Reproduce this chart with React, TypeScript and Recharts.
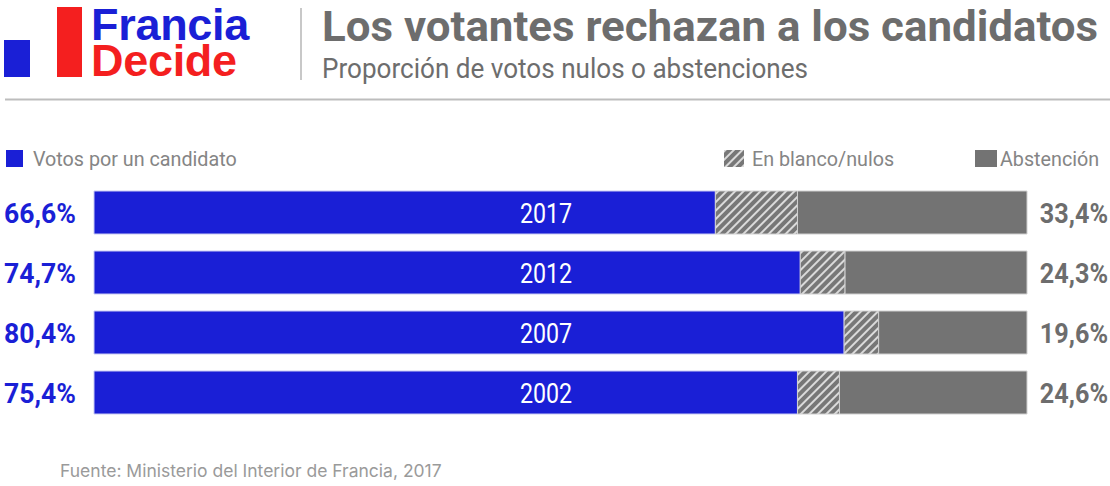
import { BarChart, Bar, XAxis, YAxis, LabelList } from "recharts";

const YEARS = ["2017", "2012", "2007", "2002"];
const VOTOS = [66.6, 75.7, 80.4, 75.4];
const BLANCO = [8.8, 4.8, 3.7, 4.5];
const ABSTENCION = [24.6, 19.5, 15.9, 20.1];
const LEFT_LABELS = ["66,6%", "74,7%", "80,4%", "75,4%"];
const RIGHT_LABELS = ["33,4%", "24,3%", "19,6%", "24,6%"];

const BLUE = "#1a1fd6";
const RED = "#f41f1f";
const GREY = "#737373";
const TEXT_GREY = "#6d6d6d";
const FONT = "Roboto, 'Liberation Sans', sans-serif";

const data = YEARS.map((year, i) => ({
  year,
  votos: VOTOS[i],
  blanco: BLANCO[i],
  abstencion: ABSTENCION[i],
  left: LEFT_LABELS[i],
  right: RIGHT_LABELS[i],
}));

// condensed look: squeeze text horizontally around its anchor
function Narrow({ x, y, sx = 0.86, anchor = "start", children, ...rest }: any) {
  return (
    <g transform={`translate(${x},${y}) scale(${sx},1)`}>
      <text x={0} y={0} textAnchor={anchor} fontFamily={FONT} {...rest}>
        {children}
      </text>
    </g>
  );
}

const YearLabel = (props: any) => {
  const { x, y, height, index } = props;
  return (
    <Narrow x={x + 452} y={y + height / 2 + 10} sx={0.86} anchor="middle" fill="#fff" fontSize={27}>
      {YEARS[index]}
    </Narrow>
  );
};

const LeftLabel = (props: any) => {
  const { x, y, height, index } = props;
  return (
    <Narrow x={x - 18} y={y + height / 2 + 10} sx={0.95} anchor="end" fill={BLUE} fontSize={28} fontWeight={700}>
      {LEFT_LABELS[index]}
    </Narrow>
  );
};

const RightLabel = (props: any) => {
  const { x, y, width, height, index } = props;
  return (
    <Narrow x={x + width + 81} y={y + height / 2 + 10} sx={0.9} anchor="end" fill={TEXT_GREY} fontSize={28} fontWeight={700}>
      {RIGHT_LABELS[index]}
    </Narrow>
  );
};

export default function App() {
  return (
    <div style={{ position: "absolute", left: 0, top: 0, width: 1110, height: 486, background: "#fff" }}>
      <svg width={1110} height={486} style={{ position: "absolute", left: 0, top: 0 }}>
        <defs>
          <pattern id="hatch" width="6" height="6" patternUnits="userSpaceOnUse" patternTransform="rotate(45)">
            <rect width="6" height="6" fill="#777" />
            <rect width="2" height="6" fill="#dadada" />
          </pattern>
        </defs>
        {/* logo */}
        <rect x={4} y={40} width={26} height={37} fill={BLUE} />
        <rect x={57} y={7} width={25} height={70} fill={RED} />
        <text x={91} y={40} fill={BLUE} fontSize={45} fontWeight={700} fontFamily="'Liberation Sans', Arial, sans-serif" letterSpacing={-0.3}>
          Francia
        </text>
        <text x={91} y={76} fill={RED} fontSize={45} fontWeight={700} fontFamily="'Liberation Sans', Arial, sans-serif" letterSpacing={-0.3}>
          Decide
        </text>
        <line x1={301} y1={8} x2={301} y2={80} stroke="#c8c8c8" strokeWidth={2} />
        {/* title */}
        <text x={322} y={41} fill={TEXT_GREY} fontSize={43} fontWeight={700} fontFamily={FONT} textLength={776} lengthAdjust="spacingAndGlyphs">
          Los votantes rechazan a los candidatos
        </text>
        <text x={322} y={78} fill={TEXT_GREY} fontSize={27} fontFamily={FONT} textLength={486} lengthAdjust="spacingAndGlyphs">
          Proporción de votos nulos o abstenciones
        </text>
        <line x1={5} y1={99.5} x2={1110} y2={99.5} stroke="#bdbdbd" strokeWidth={2} />
        {/* legend */}
        <rect x={6} y={150} width={17} height={17} fill={BLUE} />
        <Narrow x={33} y={166} sx={0.94} fill="#858585" fontSize={21}>
          Votos por un candidato
        </Narrow>
        <rect x={724} y={150} width={20} height={17} fill="url(#hatch)" />
        <Narrow x={752} y={166} sx={0.94} fill="#858585" fontSize={21}>
          En blanco/nulos
        </Narrow>
        <rect x={975} y={150} width={22} height={17} fill={GREY} />
        <Narrow x={1000} y={166} sx={0.94} fill="#858585" fontSize={21}>
          Abstención
        </Narrow>
        {/* footer */}
        <text x={60} y={477} fill="#9a9a9a" fontSize={17.5} fontFamily="Inter, sans-serif">
          Fuente: Ministerio del Interior de Francia, 2017
        </text>
      </svg>
      <div style={{ position: "absolute", left: 0, top: 0 }}>
        <BarChart
          width={1110}
          height={486}
          data={data}
          layout="vertical"
          barSize={43}
          margin={{ top: 182, right: 83, bottom: 64, left: 94 }}
        >
          <defs>
            <pattern id="hatchBar" width="6" height="6" patternUnits="userSpaceOnUse" patternTransform="rotate(45)">
              <rect width="6" height="6" fill="#777" />
              <rect width="2" height="6" fill="#dadada" />
            </pattern>
          </defs>
          <XAxis type="number" domain={[0, 100]} hide />
          <YAxis type="category" dataKey="year" hide width={0} />
          <Bar dataKey="votos" stackId="a" fill={BLUE} stroke="#c9cbf3" strokeWidth={1} isAnimationActive={false}>
            <LabelList dataKey="year" content={<YearLabel />} />
            <LabelList dataKey="left" content={<LeftLabel />} />
          </Bar>
          <Bar dataKey="blanco" stackId="a" fill="url(#hatchBar)" stroke="#d0d0d0" strokeWidth={1} isAnimationActive={false} />
          <Bar dataKey="abstencion" stackId="a" fill={GREY} stroke="#d0d0d0" strokeWidth={1} isAnimationActive={false}>
            <LabelList dataKey="right" content={<RightLabel />} />
          </Bar>
        </BarChart>
      </div>
    </div>
  );
}
